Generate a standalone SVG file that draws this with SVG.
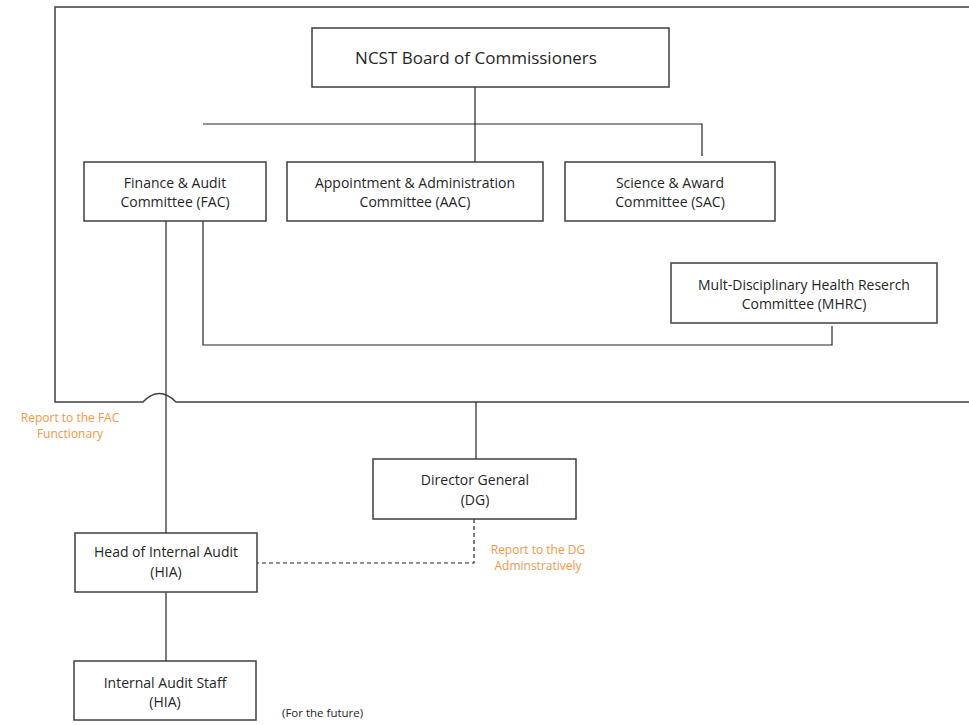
<svg xmlns="http://www.w3.org/2000/svg" width="969" height="725" viewBox="0 0 969 725">
<style>
.box{fill:#fff;stroke:#3f3f3f;stroke-width:1.5}
.t{font-family:"Open Sans","Noto Sans","Liberation Sans",sans-serif;font-size:14px;fill:#262626;text-anchor:middle}
.big{font-size:17px}
.o{font-family:"Open Sans","Noto Sans","Liberation Sans",sans-serif;font-size:12px;fill:#F79646;text-anchor:middle}
.s{font-family:"Open Sans","Noto Sans","Liberation Sans",sans-serif;font-size:11.5px;fill:#262626}
.ln{fill:none;stroke:#262626;stroke-width:1.2}
.fr{fill:none;stroke:#3f3f3f;stroke-width:1.5}
.dash{fill:none;stroke:#262626;stroke-width:1.2;stroke-dasharray:4 3}
</style>
<rect width="969" height="725" fill="#fff"/>
<g id="connectors">
<path class="fr" d="M969 7 H55 V402 H143 Q159 385 176 402 H969"/>
<path class="ln" d="M475 87 V162 M203 124 H702 V156 M203 221 V345 H832 V326 M166 221 V533 M476 402 V459 M166 592 V661"/>
<path class="dash" d="M474 519 V563 H257"/>
</g>
<g id="ncst"><rect class="box" x="312" y="28" width="357" height="59"/><text class="t big" x="476" y="64">NCST Board of Commissioners</text></g>
<g id="fac"><rect class="box" x="84" y="162" width="182" height="59"/><text class="t" x="175" y="188">Finance &amp; Audit</text><text class="t" x="175" y="207">Committee (FAC)</text></g>
<g id="aac"><rect class="box" x="287" y="162" width="256" height="59"/><text class="t" x="415" y="188">Appointment &amp; Administration</text><text class="t" x="415" y="207">Committee (AAC)</text></g>
<g id="sac"><rect class="box" x="565" y="162" width="210" height="59"/><text class="t" x="670" y="188">Science &amp; Award</text><text class="t" x="670" y="207">Committee (SAC)</text></g>
<g id="mhrc"><rect class="box" x="671" y="263" width="266" height="60"/><text class="t" x="804" y="290">Mult-Disciplinary Health Reserch</text><text class="t" x="804" y="309">Committee (MHRC)</text></g>
<g id="dg"><rect class="box" x="373" y="459" width="203" height="60"/><text class="t" x="475" y="485">Director General</text><text class="t" x="475" y="505">(DG)</text></g>
<g id="hia"><rect class="box" x="75" y="533" width="182" height="59"/><text class="t" x="166" y="557">Head of Internal Audit</text><text class="t" x="166" y="577">(HIA)</text></g>
<g id="staff"><rect class="box" x="74" y="661" width="182" height="59"/><text class="t" x="165" y="688">Internal Audit Staff</text><text class="t" x="165" y="707">(HIA)</text></g>
<g id="labels">
<text class="o" x="70" y="422">Report to the FAC</text><text class="o" x="70" y="438">Functionary</text>
<text class="o" x="538" y="554">Report to the DG</text><text class="o" x="538" y="570">Adminstratively</text>
<text class="s" x="282" y="717">(For the future)</text>
</g>
</svg>
